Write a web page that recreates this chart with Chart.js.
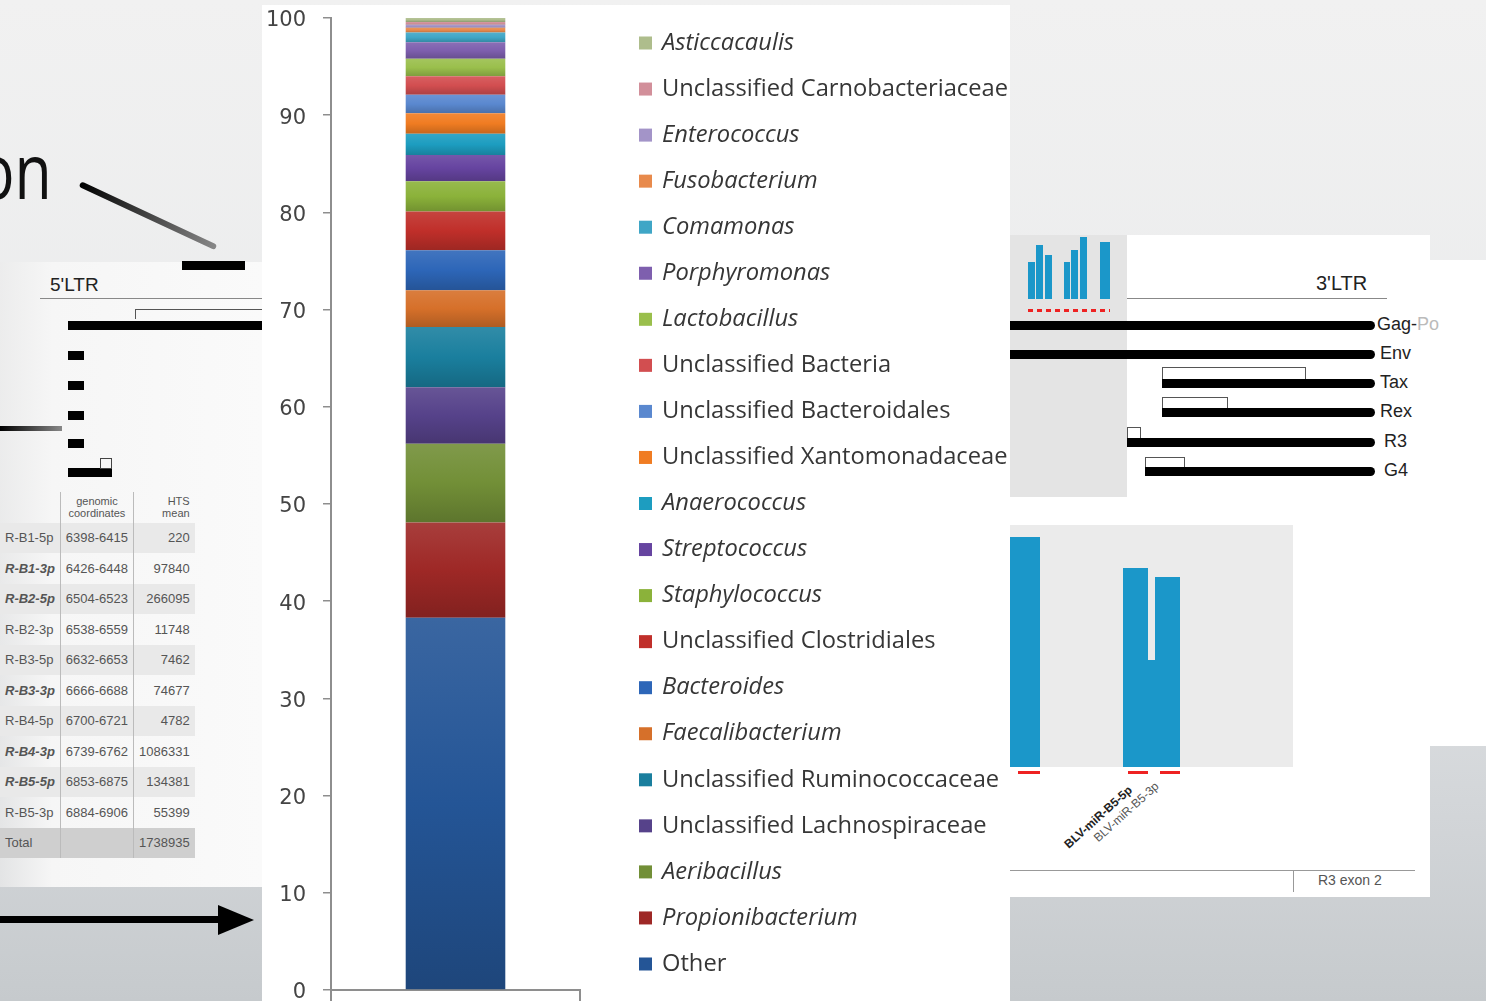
<!DOCTYPE html>
<html>
<head>
<meta charset="utf-8">
<script src="https://cdn.jsdelivr.net/npm/chart.js@4/dist/chart.umd.min.js"></script>
<style>
  html, body { margin: 0; padding: 0; }
  body {
    width: 1486px; height: 1001px; overflow: hidden; position: relative;
    background: linear-gradient(to bottom, #f1f1f1 0%, #eaebec 45%, #d3d6d9 80%, #c6cacd 100%);
    font-family: "Open Sans", "Liberation Sans", sans-serif;
  }
  .abs { position: absolute; }
  #chartBox { position: absolute; left: 262px; top: 5px; width: 748px; height: 996px; background: #fff; }
  /* left slide fragment */
  #leftPanel { left: 0; top: 262px; width: 262px; height: 625px;
    background: linear-gradient(to right, rgba(236,236,236,0.7), #f6f6f6 20%, #fafafa); }
  .bar { background: #000; height: 9px; }
  table.mir { position: absolute; left: 0; top: 492px; border-collapse: collapse;
    font-family: "Liberation Sans", Arial, sans-serif; font-size: 13px; color: #555; }
  table.mir td { height: 30.5px; padding: 0 5px; border-right: 1px solid #bbb; white-space: nowrap; }
  table.mir tr:nth-child(even) td { background: #e9e9e9; }
  table.mir tr.tot td { background: #cfcfcf; }
  .lbl { font-family: "Liberation Sans", Arial, sans-serif; color: #222; }
  #rightPanel { left: 1010px; top: 235px; width: 420px; height: 662px; background: #fff; }
  #rightTail { left: 1430px; top: 260px; width: 56px; height: 486px; background: #fff; }
  .blue { position: absolute; background: #1b97c9; }
</style>
</head>
<body>
<!-- surrounding slide fragments -->
<div class="abs" id="leftPanel"></div>
<div class="abs" style="left:-22px;top:118px;font-size:76px;color:#111;transform:scaleX(0.8);transform-origin:left top;">on</div>
<div class="abs" style="left:80px;top:181px;width:150px;height:6px;background:linear-gradient(to right,#000,#888);transform:rotate(25deg);transform-origin:left center;border-radius:3px;"></div>
<div class="abs bar" style="left:182px;top:261px;width:63px;"></div>
<div class="abs lbl" style="left:50px;top:274px;font-size:19px;">5'LTR</div>
<div class="abs" style="left:40px;top:298px;width:222px;height:1px;background:#888;"></div>
<div class="abs" style="left:135px;top:309px;width:127px;height:9px;border:1px solid #555;border-bottom:none;"></div>
<div class="abs bar" style="left:68px;top:321px;width:194px;"></div>
<div class="abs bar" style="left:68px;top:351px;width:16px;"></div>
<div class="abs bar" style="left:68px;top:381px;width:16px;"></div>
<div class="abs bar" style="left:68px;top:411px;width:16px;"></div>
<div class="abs bar" style="left:68px;top:439px;width:16px;"></div>
<div class="abs bar" style="left:68px;top:468px;width:44px;"></div>
<div class="abs" style="left:100px;top:458px;width:10px;height:9px;border:1px solid #444;"></div>
<div class="abs" style="left:0;top:426px;width:62px;height:5px;background:linear-gradient(to right,#000,#888);"></div>
<div class="abs" style="left:0;top:916px;width:222px;height:7px;background:#000;"></div>
<div class="abs" style="left:218px;top:905px;width:0;height:0;border-top:15px solid transparent;border-bottom:15px solid transparent;border-left:36px solid #000;"></div>
<table class="mir">
  <tr><td style="border-right:1px solid #bbb;"></td><td style="text-align:center;font-size:11px;line-height:12px;">genomic<br>coordinates</td><td style="text-align:right;font-size:11px;line-height:12px;border:none;">HTS<br>mean</td></tr>
  <tr><td>R-B1-5p</td><td>6398-6415</td><td style="text-align:right;border:none;">220</td></tr>
  <tr><td><i><b>R-B1-3p</b></i></td><td>6426-6448</td><td style="text-align:right;border:none;">97840</td></tr>
  <tr><td><i><b>R-B2-5p</b></i></td><td>6504-6523</td><td style="text-align:right;border:none;">266095</td></tr>
  <tr><td>R-B2-3p</td><td>6538-6559</td><td style="text-align:right;border:none;">11748</td></tr>
  <tr><td>R-B3-5p</td><td>6632-6653</td><td style="text-align:right;border:none;">7462</td></tr>
  <tr><td><i><b>R-B3-3p</b></i></td><td>6666-6688</td><td style="text-align:right;border:none;">74677</td></tr>
  <tr><td>R-B4-5p</td><td>6700-6721</td><td style="text-align:right;border:none;">4782</td></tr>
  <tr><td><i><b>R-B4-3p</b></i></td><td>6739-6762</td><td style="text-align:right;border:none;">1086331</td></tr>
  <tr><td><i><b>R-B5-5p</b></i></td><td>6853-6875</td><td style="text-align:right;border:none;">134381</td></tr>
  <tr><td>R-B5-3p</td><td>6884-6906</td><td style="text-align:right;border:none;">55399</td></tr>
  <tr class="tot"><td>Total</td><td></td><td style="text-align:right;border:none;">1738935</td></tr>
</table>

<div class="abs" id="rightPanel"></div>
<div class="abs" id="rightTail"></div>
<div class="abs" style="left:1010px;top:235px;width:117px;height:262px;background:#e4e4e4;"></div>
<div class="blue" style="left:1028px;top:262px;width:7px;height:37px;"></div>
<div class="blue" style="left:1036px;top:245px;width:7px;height:54px;"></div>
<div class="blue" style="left:1045px;top:255px;width:7px;height:44px;"></div>
<div class="blue" style="left:1064px;top:262px;width:6px;height:37px;"></div>
<div class="blue" style="left:1071px;top:250px;width:7px;height:49px;"></div>
<div class="blue" style="left:1080px;top:237px;width:7px;height:62px;"></div>
<div class="blue" style="left:1100px;top:242px;width:10px;height:57px;"></div>
<div class="abs" style="left:1028px;top:309px;width:82px;height:3px;background:repeating-linear-gradient(to right,#e22 0 5px,transparent 5px 9px);"></div>
<div class="abs" style="left:1010px;top:525px;width:283px;height:242px;background:#ebebeb;"></div>
<div class="blue" style="left:1010px;top:537px;width:30px;height:230px;"></div>
<div class="blue" style="left:1123px;top:568px;width:25px;height:199px;"></div>
<div class="blue" style="left:1148px;top:660px;width:8px;height:107px;"></div>
<div class="blue" style="left:1155px;top:577px;width:25px;height:190px;"></div>
<div class="abs" style="left:1018px;top:771px;width:22px;height:3px;background:#e22;"></div>
<div class="abs" style="left:1128px;top:771px;width:20px;height:3px;background:#e22;"></div>
<div class="abs" style="left:1160px;top:771px;width:20px;height:3px;background:#e22;"></div>
<div class="abs lbl" style="left:1055px;top:810px;font-size:12px;font-weight:bold;transform:rotate(-42deg);">BLV-miR-B5-5p</div>
<div class="abs lbl" style="left:1085px;top:805px;font-size:12px;color:#555;transform:rotate(-42deg);">BLV-miR-B5-3p</div>
<div class="abs" style="left:1010px;top:870px;width:405px;height:1px;background:#999;"></div>
<div class="abs" style="left:1293px;top:870px;width:1px;height:22px;background:#999;"></div>
<div class="abs lbl" style="left:1318px;top:872px;font-size:14px;color:#555;">R3 exon 2</div>
<div class="abs lbl" style="left:1316px;top:272px;font-size:20px;">3'LTR</div>
<div class="abs" style="left:1127px;top:298px;width:260px;height:1px;background:#888;"></div>
<div class="abs bar" style="left:1010px;top:321px;width:365px;border-radius:0 5px 5px 0;"></div>
<div class="abs bar" style="left:1010px;top:350px;width:365px;border-radius:0 5px 5px 0;"></div>
<div class="abs bar" style="left:1162px;top:379px;width:213px;border-radius:0 5px 5px 0;"></div>
<div class="abs bar" style="left:1162px;top:408px;width:213px;border-radius:0 5px 5px 0;"></div>
<div class="abs bar" style="left:1127px;top:438px;width:248px;border-radius:0 5px 5px 0;"></div>
<div class="abs bar" style="left:1145px;top:467px;width:230px;border-radius:0 5px 5px 0;"></div>
<div class="abs" style="left:1162px;top:367px;width:142px;height:11px;border:1px solid #555;border-bottom:none;"></div>
<div class="abs" style="left:1162px;top:397px;width:64px;height:10px;border:1px solid #555;border-bottom:none;"></div>
<div class="abs" style="left:1127px;top:427px;width:12px;height:10px;border:1px solid #555;border-bottom:none;"></div>
<div class="abs" style="left:1145px;top:457px;width:38px;height:9px;border:1px solid #555;border-bottom:none;"></div>
<div class="abs lbl" style="left:1377px;top:314px;font-size:18px;">Gag-<span style="color:#bbb">Po</span></div>
<div class="abs lbl" style="left:1380px;top:343px;font-size:18px;">Env</div>
<div class="abs lbl" style="left:1380px;top:372px;font-size:18px;">Tax</div>
<div class="abs lbl" style="left:1380px;top:401px;font-size:18px;">Rex</div>
<div class="abs lbl" style="left:1384px;top:431px;font-size:18px;">R3</div>
<div class="abs lbl" style="left:1384px;top:460px;font-size:18px;">G4</div>

<div id="chartBox"><canvas id="chart" width="748" height="996"></canvas></div>

<script>
// Taxa, stacked from the bottom of the bar upward (relative abundance, %)
const categories = [''];
const taxa = [
  'Other', 'Propionibacterium', 'Aeribacillus', 'Unclassified Lachnospiraceae',
  'Unclassified Ruminococcaceae', 'Faecalibacterium', 'Bacteroides',
  'Unclassified Clostridiales', 'Staphylococcus', 'Streptococcus', 'Anaerococcus',
  'Unclassified Xantomonadaceae', 'Unclassified Bacteroidales', 'Unclassified Bacteria',
  'Lactobacillus', 'Porphyromonas', 'Comamonas', 'Fusobacterium', 'Enterococcus',
  'Unclassified Carnobacteriaceae', 'Asticcacaulis'
];
const abundance = [
  38.3, 9.8, 8.1, 5.8,
  6.2, 3.8, 4.1,
  4.0, 3.1, 2.7, 2.2,
  2.1, 1.9, 1.9,
  1.8, 1.7, 1.0, 0.5, 0.3,
  0.3, 0.4
];
const taxonColors = [
  '#245596', '#9e2826', '#728f37', '#56428a',
  '#1a7f9e', '#d6702a', '#2d66b8',
  '#c02f2a', '#8bb23a', '#6644a0', '#1d9dc0',
  '#f07c22', '#5a88cf', '#d24e50',
  '#9abf4c', '#7e5fae', '#3fa6c6', '#e88a4c', '#a394c8',
  '#d28f9a', '#aebd8c'
];
// genus names are set in italics in the legend
const italicTaxa = [
  'Propionibacterium', 'Aeribacillus', 'Faecalibacterium', 'Bacteroides',
  'Staphylococcus', 'Streptococcus', 'Anaerococcus', 'Lactobacillus',
  'Porphyromonas', 'Comamonas', 'Fusobacterium', 'Enterococcus', 'Asticcacaulis'
];
const yTickValues = [0, 10, 20, 30, 40, 50, 60, 70, 80, 90, 100];

function shade(hex, f) {
  const n = parseInt(hex.slice(1), 16);
  const ch = [(n >> 16) & 255, (n >> 8) & 255, n & 255].map(v => {
    const x = f >= 1 ? v + (255 - v) * (f - 1) : v * f;
    return Math.max(0, Math.min(255, Math.round(x)));
  });
  return 'rgb(' + ch.join(',') + ')';
}

// vertical sheen on every stacked segment
function segmentFill(ctx) {
  const chart = ctx.chart;
  const base = taxonColors[ctx.datasetIndex];
  const y = chart.scales && chart.scales.y;
  if (!y || !chart.chartArea || ctx.type !== 'data') return base;
  let start = 0;
  for (let i = 0; i < ctx.datasetIndex; i++) start += abundance[i];
  const top = y.getPixelForValue(start + abundance[ctx.datasetIndex]);
  const bot = y.getPixelForValue(start);
  if (!isFinite(top) || !isFinite(bot) || bot - top < 1) return base;
  const g = chart.ctx.createLinearGradient(0, top, 0, bot);
  g.addColorStop(0, shade(base, 1.1));
  g.addColorStop(0.5, base);
  g.addColorStop(1, shade(base, 0.82));
  return g;
}

// legend listed top-down, matching the order of the stack
const taxaLegend = {
  id: 'taxaLegend',
  afterDraw(chart) {
    const c = chart.ctx;
    const x0 = 377, y0 = 38, step = 46.05, box = 13;
    c.save();
    c.textBaseline = 'middle';
    const n = chart.data.datasets.length;
    for (let k = 0; k < n; k++) {
      const ds = chart.data.datasets[n - 1 - k];
      const yc = y0 + k * step;
      c.fillStyle = taxonColors[n - 1 - k];
      c.fillRect(x0, yc - box / 2, box, box);
      const it = italicTaxa.includes(ds.label);
      c.font = (it ? 'italic ' : '') + '23.7px "Open Sans", sans-serif';
      c.fillStyle = '#363636';
      c.fillText(ds.label, x0 + 23, yc);
    }
    c.restore();
  }
};

new Chart(document.getElementById('chart'), {
  type: 'bar',
  data: {
    labels: categories,
    datasets: taxa.map((name, i) => ({
      label: name,
      data: [abundance[i]],
      backgroundColor: segmentFill,
      borderWidth: 0,
      stack: 'all',
      categoryPercentage: 1,
      barPercentage: 0.4
    }))
  },
  options: {
    responsive: false,
    animation: false,
    layout: { padding: { top: 13, right: 430, bottom: 0, left: 0 } },
    plugins: { legend: { display: false }, tooltip: { enabled: false } },
    scales: {
      x: {
        stacked: true,
        afterFit(s) { s.height = 11; s.paddingLeft = 0; s.paddingRight = 0; },
        ticks: { display: false },
        grid: { drawOnChartArea: false, drawTicks: true, tickLength: 11, color: '#8e8e8e', lineWidth: 2 },
        border: { display: true, color: '#8e8e8e', width: 2 }
      },
      y: {
        stacked: true,
        min: 0, max: 100,
        afterFit(s) { s.width = 69; s.paddingTop = 0; s.paddingBottom = 0; },
        afterBuildTicks(s) { s.ticks = yTickValues.map(v => ({ value: v })); },
        ticks: { color: '#444', padding: 17, labelOffset: 3, font: { family: '"DejaVu Sans", sans-serif', size: 21 } },
        grid: { drawOnChartArea: false, drawTicks: true, tickLength: 8, color: '#8e8e8e', lineWidth: 1.5 },
        border: { display: true, color: '#8e8e8e', width: 2 }
      }
    }
  },
  plugins: [taxaLegend]
});
</script>
</body>
</html>
